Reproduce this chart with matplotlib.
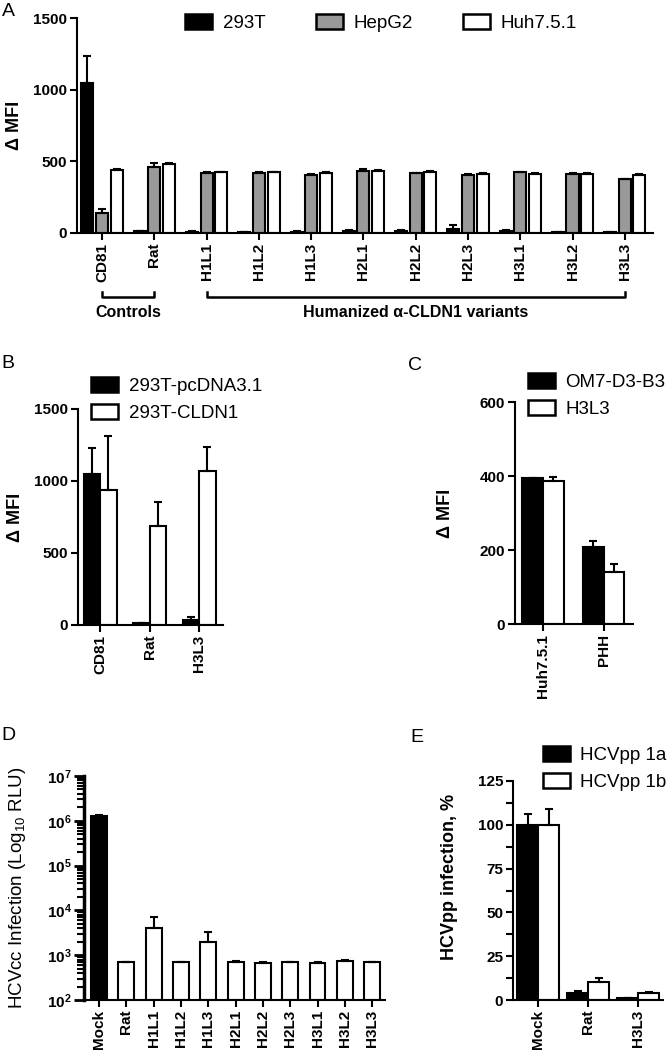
import numpy as np
import matplotlib
matplotlib.use("Agg")
import matplotlib.pyplot as plt
import matplotlib.ticker as mticker
import matplotlib.transforms as mtransforms

plt.rcParams.update(
    {
        "font.family": ["Liberation Sans", "DejaVu Sans"],
        "mathtext.default": "regular",
        "axes.linewidth": 1.5,
        "xtick.major.width": 1.5,
        "ytick.major.width": 1.5,
        "ytick.minor.width": 1.5,
        "xtick.major.size": 5,
        "ytick.major.size": 5,
    }
)

# ---- panel A ----
A_LABELS = ["CD81", "Rat", "H1L1", "H1L2", "H1L3", "H2L1", "H2L2", "H2L3", "H3L1", "H3L2", "H3L3"]
A_SERIES = ["293T", "HepG2", "Huh7.5.1"]
A_293T = [1047, 12, 10, 6, 10, 15, 15, 28, 15, 4, 4]
A_293T_ERR = [186, 4, 3, 2, 3, 5, 5, 28, 4, 1, 1]
A_HEPG2 = [142, 460, 418, 418, 407, 436, 416, 405, 424, 410, 377]
A_HEPG2_ERR = [27, 26, 8, 8, 4, 8, 4, 6, 4, 10, 3]
A_HUH = [442, 484, 424, 424, 420, 430, 428, 414, 414, 414, 403]
A_HUH_ERR = [8, 4, 5, 5, 8, 9, 4, 6, 4, 6, 6]

# ---- panel B ----
B_LABELS = ["CD81", "Rat", "H3L3"]
B_SERIES = ["293T-pcDNA3.1", "293T-CLDN1"]
B_PCDNA = [1050, 12, 38]
B_PCDNA_ERR = [182, 5, 20]
B_CLDN1 = [935, 690, 1072]
B_CLDN1_ERR = [380, 162, 162]

# ---- panel C ----
C_LABELS = ["Huh7.5.1", "PHH"]
C_SERIES = ["OM7-D3-B3", "H3L3"]
C_OM7 = [395, 207]
C_OM7_ERR = [0, 17]
C_H3L3 = [387, 140]
C_H3L3_ERR = [9, 23]

# ---- panel D ----
D_LABELS = ["Mock", "Rat", "H1L1", "H1L2", "H1L3", "H2L1", "H2L2", "H2L3", "H3L1", "H3L2", "H3L3"]
D_VALUES = [1.3e6, 690, 4100, 690, 2000, 720, 680, 690, 680, 750, 700]
D_ERR = [40000, 15, 3200, 12, 1350, 15, 12, 15, 12, 20, 15]
D_YMIN = 1e2

# ---- panel E ----
E_LABELS = ["Mock", "Rat", "H3L3"]
E_SERIES = ["HCVpp 1a", "HCVpp 1b"]
E_1A = [100, 4, 1]
E_1A_ERR = [6, 1, 0.3]
E_1B = [100, 10.3, 4.2]
E_1B_ERR = [9, 2, 0.3]

W, H = 667, 1054
TICK_FS = 11
LEGEND_FS = 13.5
fig = plt.figure(figsize=(W / 100, H / 100), dpi=100)


def axes_px(x0, x1, ytop, ybot):
    return fig.add_axes([x0 / W, 1 - ybot / H, (x1 - x0) / W, (ybot - ytop) / H])


def style(ax, labels, ylabel, ylab_x, ylab_y=0.5, ylab_size=13, ylab_weight="bold"):
    ax.spines["top"].set_visible(False)
    ax.spines["right"].set_visible(False)
    ax.set_xticks(np.arange(len(labels)))
    ax.set_xticklabels(labels, rotation=90, fontsize=TICK_FS, fontweight="bold")
    ax.tick_params(axis="both", direction="out", pad=2)
    for t in ax.get_yticklabels():
        t.set_fontweight("bold")
        t.set_fontsize(TICK_FS)
    ax.set_ylabel(ylabel, fontsize=ylab_size, fontweight=ylab_weight, va="center")
    ax.yaxis.set_label_coords(ylab_x, ylab_y)


def bars(ax, x, vals, errs, width, color, bottom=0):
    ax.bar(x, np.array(vals) - bottom, width, bottom=bottom, color=color,
           edgecolor="black", linewidth=1.5, zorder=2)
    ax.errorbar(x, vals, yerr=[np.zeros(len(vals)), errs], fmt="none",
                ecolor="black", elinewidth=1.5, capsize=3, capthick=1.5, zorder=3)


def legend(ax, handles_labels, x, y, ncol=1, colsp=2.0, lsp=0.5):
    h = [plt.Rectangle((0, 0), 1, 1, facecolor=c, edgecolor="black", linewidth=1.8)
         for c, _ in handles_labels]
    ax.legend(h, [l for _, l in handles_labels], loc="upper left",
              bbox_to_anchor=(x / W, 1 - y / H), bbox_transform=fig.transFigure,
              frameon=False, fontsize=LEGEND_FS, ncol=ncol, handlelength=1.45,
              handleheight=0.85, handletextpad=0.55, columnspacing=colsp,
              labelspacing=lsp, borderpad=0, borderaxespad=0)


# Panel A
axA = axes_px(77, 653, 18, 233)
xa = np.arange(len(A_LABELS))
bars(axA, xa - 0.28, A_293T, A_293T_ERR, 0.23, "black")
bars(axA, xa, A_HEPG2, A_HEPG2_ERR, 0.23, "#999999")
bars(axA, xa + 0.28, A_HUH, A_HUH_ERR, 0.23, "white")
axA.set_xlim(-0.48, len(A_LABELS) - 1 + 0.54)
axA.set_ylim(0, 1500)
axA.set_yticks([0, 500, 1000, 1500])
style(axA, A_LABELS, "\u0394 MFI", -0.108)
legend(axA, [("black", A_SERIES[0]), ("#999999", A_SERIES[1]), ("white", A_SERIES[2])],
       185, 14, ncol=3, colsp=2.7)

trans = mtransforms.blended_transform_factory(axA.transData, axA.transAxes)
for x0, x1, txt in [(0, 1, "Controls"), (2, 10, "Humanized \u03b1-CLDN1 variants")]:
    axA.plot([x0, x0, x1, x1], [-0.275, -0.298, -0.298, -0.275], color="black",
             lw=1.8, transform=trans, clip_on=False)
    axA.text((x0 + x1) / 2, -0.37, txt, transform=trans, ha="center", va="center",
             fontsize=11.5, fontweight="bold")

# Panel B
axB = axes_px(78, 223, 409, 625)
xb = np.arange(len(B_LABELS))
bars(axB, xb - 0.165, B_PCDNA, B_PCDNA_ERR, 0.33, "black")
bars(axB, xb + 0.165, B_CLDN1, B_CLDN1_ERR, 0.33, "white")
axB.set_xlim(-0.45, len(B_LABELS) - 1 + 0.48)
axB.set_ylim(0, 1500)
axB.set_yticks([0, 500, 1000, 1500])
style(axB, B_LABELS, "\u0394 MFI", -0.43)
legend(axB, [("black", B_SERIES[0]), ("white", B_SERIES[1])], 91, 377)

# Panel C
axC = axes_px(515, 633, 402, 624)
xc = np.arange(len(C_LABELS))
bars(axC, xc - 0.17, C_OM7, C_OM7_ERR, 0.34, "black")
bars(axC, xc + 0.17, C_H3L3, C_H3L3_ERR, 0.34, "white")
axC.set_xlim(-0.46, len(C_LABELS) - 1 + 0.48)
axC.set_ylim(0, 600)
axC.set_yticks([0, 200, 400, 600])
style(axC, C_LABELS, "\u0394 MFI", -0.59)
legend(axC, [("black", C_SERIES[0]), ("white", C_SERIES[1])], 528, 373)

# Panel D
axD = axes_px(84, 385, 776, 1000)
xd = np.arange(len(D_LABELS))
axD.set_yscale("log")
colors_d = ["black"] + ["white"] * (len(D_LABELS) - 1)
axD.bar(xd, np.array(D_VALUES) - D_YMIN, 0.58, bottom=D_YMIN, color=colors_d,
        edgecolor="black", linewidth=1.5, zorder=2)
axD.errorbar(xd, D_VALUES, yerr=[np.zeros(len(D_VALUES)), D_ERR], fmt="none",
             ecolor="black", elinewidth=1.5, capsize=3, capthick=1.5, zorder=3)
axD.set_xlim(-0.55, len(D_LABELS) - 1 + 0.47)
axD.set_ylim(D_YMIN, 1e7)
axD.yaxis.set_minor_locator(mticker.LogLocator(base=10, subs=np.arange(2, 10), numticks=10))
axD.yaxis.set_minor_formatter(mticker.NullFormatter())
axD.set_yticks([1e2, 1e3, 1e4, 1e5, 1e6, 1e7])
axD.set_yticklabels(["10$^{%d}$" % p for p in range(2, 8)])
axD.tick_params(axis="y", which="major", length=7, width=2)
axD.tick_params(axis="y", which="minor", length=5, width=1.5)
axD.spines["left"].set_linewidth(2.5)
style(axD, D_LABELS, "HCVcc Infection (Log$_{10}$ RLU)", -0.22, ylab_size=13.5,
      ylab_weight="normal")

# Panel E
axE = axes_px(513, 663, 781, 1000)
xe = np.arange(len(E_LABELS))
bars(axE, xe - 0.21, E_1A, E_1A_ERR, 0.42, "black")
bars(axE, xe + 0.21, E_1B, E_1B_ERR, 0.42, "white")
axE.set_xlim(-0.5, len(E_LABELS) - 1 + 0.5)
axE.set_ylim(0, 125)
axE.set_yticks([0, 25, 50, 75, 100, 125])
axE.yaxis.set_minor_locator(mticker.MultipleLocator(12.5))
axE.tick_params(axis="y", which="minor", length=5, width=1.5)
style(axE, E_LABELS, "HCVpp infection, %", -0.42, ylab_y=0.56, ylab_size=13)
legend(axE, [("black", E_SERIES[0]), ("white", E_SERIES[1])], 543, 746)

for txt, x, y in [("A", 8, 11), ("B", 8, 364), ("C", 415, 365), ("D", 8, 736), ("E", 417, 737)]:
    fig.text(x / W, 1 - y / H, txt, fontsize=14, ha="center", va="center")

fig.savefig("out.png", dpi=100)
